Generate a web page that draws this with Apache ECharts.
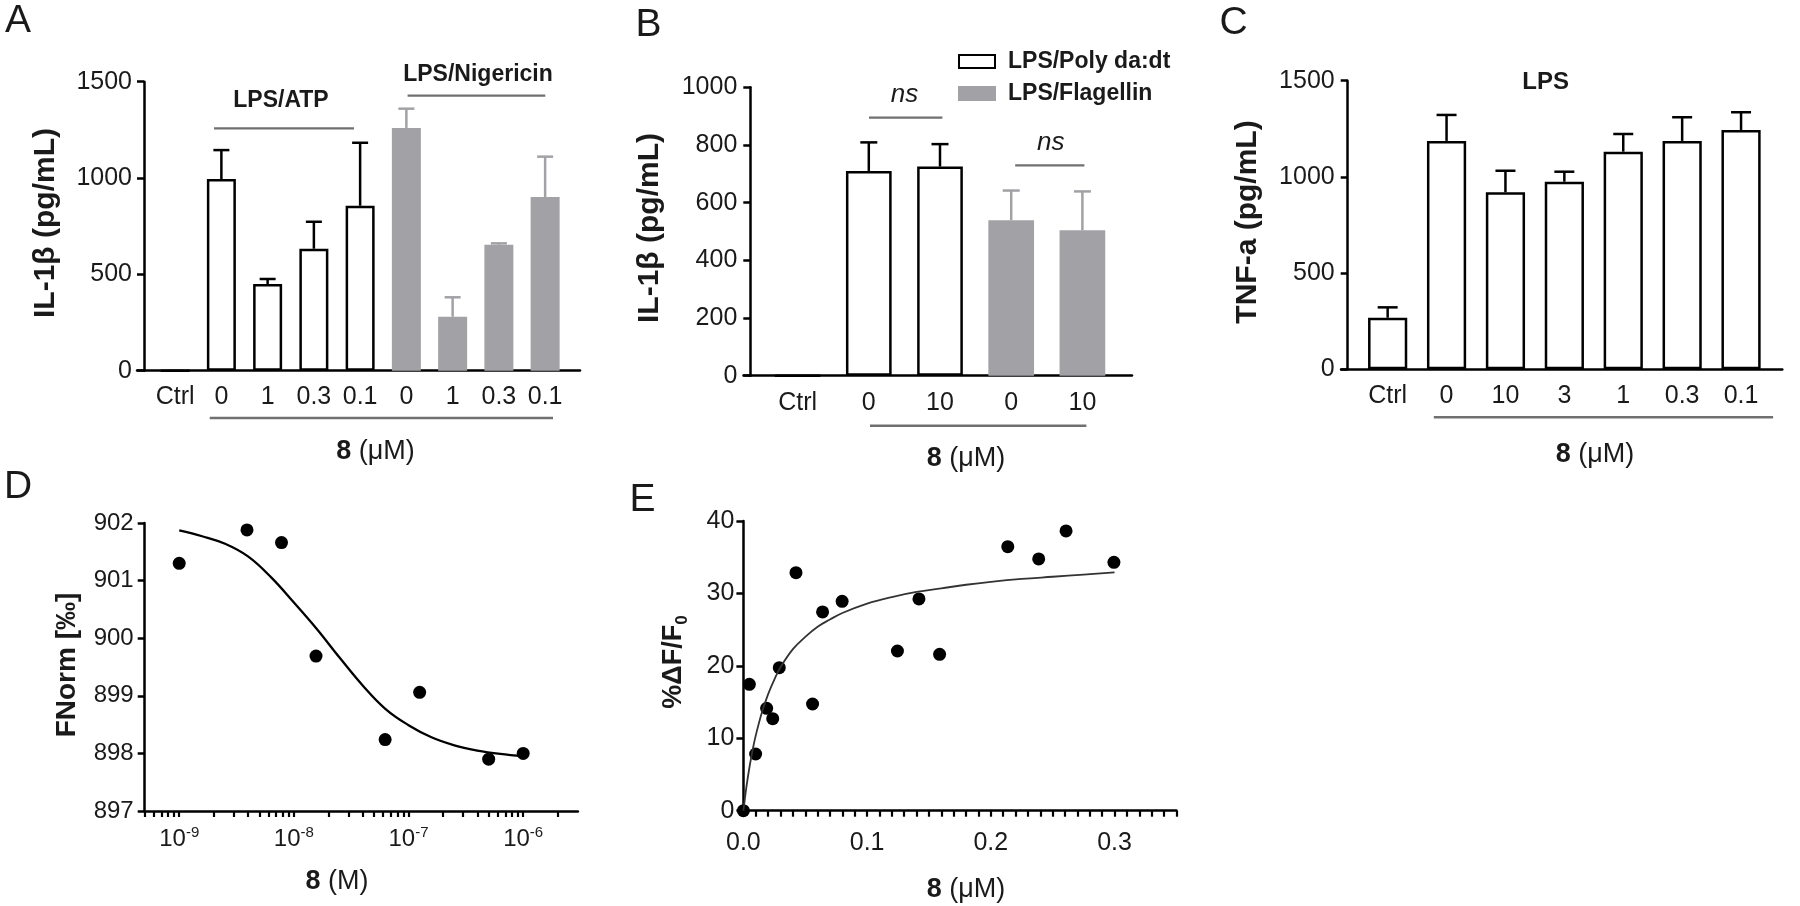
<!DOCTYPE html>
<html><head><meta charset="utf-8">
<script src="https://cdn.jsdelivr.net/npm/echarts@6/dist/echarts.min.js"></script>
<style>html,body{margin:0;padding:0;background:#fff}#c{width:1800px;height:906px}</style>
</head><body><div id="c"></div>
<script>
// ---------- Panel A ----------
const aCategories = ['Ctrl', '0', '1', '0.3', '0.1', '0', '1', '0.3', '0.1'];
const aWhite    = [0, 995, 450, 633, 856, null, null, null, null];
const aWhiteErr = [null, 1145, 476, 773, 1183, null, null, null, null];
const aGray     = [null, null, null, null, null, 1260, 280, 654, 901];
const aGrayErr  = [null, null, null, null, null, 1360, 381, 661, 1111];
// ---------- Panel B ----------
const bCategories = ['Ctrl', '0', '10', '0', '10'];
const bWhite    = [0, 710, 725, null, null];
const bWhiteErr = [null, 809, 803, null, null];
const bGray     = [null, null, null, 539, 504];
const bGrayErr  = [null, null, null, 642, 639];
// ---------- Panel C ----------
const cCategories = ['Ctrl', '0', '10', '3', '1', '0.3', '0.1'];
const cValues = [268, 1187, 920, 975, 1131, 1187, 1244];
const cErr    = [322, 1322, 1032, 1027, 1223, 1310, 1336];
// ---------- Panel D (x in M, plotted on log10 scale) ----------
const dConc  = [1e-9, 3.9e-9, 7.8e-9, 1.56e-8, 6.25e-8, 1.25e-7, 5e-7, 1e-6];
const dFNorm = [901.30, 901.88, 901.66, 899.69, 898.24, 899.06, 897.90, 898.00];
const dFitLogConc = [-9.0, -8.8, -8.6, -8.4, -8.2, -8.0, -7.8, -7.6, -7.4, -7.2, -7.0, -6.8, -6.6, -6.4, -6.2, -6.0];
const dFitFNorm   = [901.87, 901.77, 901.64, 901.42, 901.06, 900.62, 900.16, 899.66, 899.18, 898.77, 898.49, 898.28, 898.14, 898.05, 897.99, 897.95];
const dTickExp = [-9, -8, -7, -6];
// ---------- Panel E ----------
const eConc = [0, 0.0048, 0.0099, 0.0188, 0.0237, 0.029, 0.0425, 0.0559, 0.064, 0.0798, 0.1245, 0.1419, 0.1586, 0.2137, 0.2387, 0.2608, 0.2995];
const eDF   = [0, 17.45, 7.83, 14.13, 12.71, 19.75, 32.87, 14.73, 27.44, 28.91, 22.05, 29.24, 21.59, 36.46, 34.76, 38.63, 34.3];
const eFitConc = [0, 0.001, 0.0025, 0.005, 0.0075, 0.01, 0.015, 0.02, 0.025, 0.03, 0.04, 0.05, 0.06, 0.07, 0.08, 0.1, 0.12, 0.14, 0.16, 0.18, 0.2, 0.225, 0.25, 0.275, 0.3];
const eFitDF   = [0, 1.4, 3.35, 6.1, 8.4, 10.4, 13.6, 16.1, 18.1, 19.8, 22.3, 24.0, 25.4, 26.4, 27.3, 28.6, 29.5, 30.2, 30.7, 31.2, 31.6, 32.0, 32.3, 32.6, 32.9];
const eXTicks = [0, 0.1, 0.2, 0.3];

const FONT = 'Liberation Sans, Arial, Helvetica, sans-serif';
const TXT = '#1a1a1a';
const GRAYBAR = '#a2a2a6';
const GRAYLINE = '#707070';
const AXW = 2.5;
const D_MIN = -9.30103, D_MAX = -5.52288;

const chart = echarts.init(document.getElementById('c'));

function catX(grid, cats, margin) {
  return {type: 'category', gridIndex: grid, data: cats,
    axisLine: {show: false}, axisTick: {alignWithLabel: true, length: 7, lineStyle: {color: '#000', width: AXW}},
    axisLabel: {fontSize: 25, color: TXT, margin: margin, fontFamily: FONT, interval: 0}};
}
function lineX(grid) {
  return {type: 'value', gridIndex: grid, min: 0, max: 1, axisLine: {show: true, onZero: false, lineStyle: {color: '#000', width: AXW}},
    axisTick: {show: false}, axisLabel: {show: false}, splitLine: {show: false}};
}
function valY(grid, min, max, interval, offset, margin, fs) {
  return {type: 'value', gridIndex: grid, min, max, interval, offset: offset,
    axisLine: {show: true, lineStyle: {color: '#000', width: AXW}},
    axisTick: {show: true, length: 7, lineStyle: {color: '#000', width: AXW}},
    axisLabel: {fontSize: fs || 25, color: TXT, margin: margin, fontFamily: FONT, formatter: v => String(v)},
    splitLine: {show: false}};
}
function hiddenY(grid) {
  return {type: 'value', gridIndex: grid, min: 0, max: 1,
    axisLine: {show: false}, axisTick: {show: false}, axisLabel: {show: false}, splitLine: {show: false}};
}

function errSeries(xi, yi, vals, errs, color, capHalf) {
  const data = [];
  vals.forEach((v, i) => { if (v != null && errs[i] != null) data.push([i, v, errs[i]]); });
  return {type: 'custom', xAxisIndex: xi, yAxisIndex: yi, data, z: 5, silent: true,
    encode: {x: 0, y: [1, 2]},
    renderItem(params, api) {
      const i = api.value(0), v = api.value(1), e = api.value(2);
      const p0 = api.coord([i, v]), p1 = api.coord([i, e]);
      const st = {stroke: color, lineWidth: AXW};
      return {type: 'group', children: [
        {type: 'line', shape: {x1: p0[0], y1: p0[1], x2: p1[0], y2: p1[1]}, style: st},
        {type: 'line', shape: {x1: p1[0] - capHalf, y1: p1[1], x2: p1[0] + capHalf, y2: p1[1]}, style: st}
      ]};
    }};
}
function bar(name, xi, yi, data, white, width) {
  return {type: 'bar', name, xAxisIndex: xi, yAxisIndex: yi, data, barWidth: width, barGap: '-100%',
    itemStyle: white ? {color: '#fff', borderColor: '#000', borderWidth: AXW} : {color: GRAYBAR, borderColor: GRAYBAR, borderWidth: AXW},
    silent: true};
}

// tick positions: log axis (decades + 2..9 x each decade) and linear axis (every 0.01)
const dAllTicks = dTickExp.slice();
for (let e = -10; e <= -6; e++) for (let k = 2; k <= 9; k++) {
  const v = Math.log10(k) + e; if (v > D_MIN && v < D_MAX) dAllTicks.push(v);
}
const eAllTicks = [];
for (let k = 0; k <= 35; k++) eAllTicks.push(k / 100);

function txt(text, x, y, size, weight, extra) {
  return Object.assign({type: 'text', x, y, silent: true, style: Object.assign({text, fontSize: size, fontWeight: weight || 'normal', fontFamily: FONT, fill: TXT, align: 'center', verticalAlign: 'middle'}, (extra && extra.style) || {})}, extra && extra.rotation ? {rotation: extra.rotation} : {});
}
function hline(x1, x2, y, w) {
  return {type: 'line', silent: true, shape: {x1, y1: y, x2, y2: y}, style: {stroke: GRAYLINE, lineWidth: w || 2.2}};
}
function unitLabel(x, y, unit) {
  return {type: 'text', x, y, silent: true, style: {text: '{b|8} ' + unit, fontSize: 27, fontFamily: FONT, fill: TXT, align: 'center', verticalAlign: 'middle',
    rich: {b: {fontSize: 27, fontWeight: 'bold', fontFamily: FONT, fill: TXT}}}};
}
const R = Math.PI / 2;

const option = {
  animation: false,
  backgroundColor: '#fff',
  textStyle: {fontFamily: FONT},
  grid: [
    {left: 152, top: 81.7, width: 416.25, height: 289},
    {left: 137, top: 81.7, width: 443, height: 289},
    {left: 762, top: 87.3, width: 356, height: 288.4},
    {left: 743.5, top: 87.3, width: 388.5, height: 288.4},
    {left: 1358.2, top: 80.7, width: 412.3, height: 288.6},
    {left: 1341, top: 80.7, width: 441.3, height: 288.6},
    {left: 144.7, top: 523, width: 433.2, height: 288},
    {left: 743.4, top: 521, width: 433, height: 289.7}
  ],
  xAxis: [
    catX(0, aCategories, 14),
    lineX(1),
    catX(2, bCategories, 15),
    lineX(3),
    catX(4, cCategories, 14),
    lineX(5),
    {type: 'value', gridIndex: 6, min: D_MIN, max: D_MAX,
      axisLine: {show: true, onZero: false, lineStyle: {color: '#000', width: AXW}},
      axisTick: {show: true, length: 6, customValues: dAllTicks, lineStyle: {color: '#000', width: 2.2}},
      axisLabel: {customValues: dTickExp, margin: 14, color: TXT, fontFamily: FONT,
        formatter: v => '{b|10}{s|' + v + '}',
        rich: {b: {fontSize: 24, lineHeight: 26, verticalAlign: 'bottom', fontFamily: FONT, color: TXT},
               s: {fontSize: 15, lineHeight: 15, verticalAlign: 'top', fontFamily: FONT, color: TXT}}},
      splitLine: {show: false}},
    {type: 'value', gridIndex: 7, min: 0, max: 0.35,
      axisLine: {show: true, onZero: false, lineStyle: {color: '#000', width: AXW}},
      axisTick: {show: true, length: 6, customValues: eAllTicks, lineStyle: {color: '#000', width: 2.2}},
      axisLabel: {customValues: eXTicks, fontSize: 25, margin: 20, color: TXT, fontFamily: FONT, formatter: v => v.toFixed(1)},
      splitLine: {show: false}}
  ],
  yAxis: [
    valY(0, 0, 1500, 500, 8, 12),
    hiddenY(1),
    valY(2, 0, 1000, 200, 11.7, 13),
    hiddenY(3),
    valY(4, 0, 1500, 500, 10.5, 13),
    hiddenY(5),
    valY(6, 897, 902, 1, 0, 11, 24),
    valY(7, 0, 40, 10, 0, 9, 25)
  ],
  legend: {data: ['LPS/Poly da:dt', 'LPS/Flagellin'], orient: 'vertical', left: 958, top: 50, padding: 0,
    itemWidth: 36, itemHeight: 13, itemGap: 9, icon: 'rect', selectedMode: false,
    textStyle: {fontSize: 23, fontWeight: 'bold', color: TXT, fontFamily: FONT, padding: [0, 0, 0, 8]}},
  series: [
    bar('LPS/ATP', 0, 0, aWhite, true, 29),
    bar('LPS/Nigericin', 0, 0, aGray, false, 29),
    errSeries(0, 0, aWhite, aWhiteErr, '#000', 8),
    errSeries(0, 0, aGray, aGrayErr, GRAYBAR, 8),
    bar('LPS/Poly da:dt', 2, 2, bWhite, true, 45.7),
    bar('LPS/Flagellin', 2, 2, bGray, false, 45.7),
    errSeries(2, 2, bWhite, bWhiteErr, '#000', 8.5),
    errSeries(2, 2, bGray, bGrayErr, GRAYBAR, 8.5),
    bar('LPS', 4, 4, cValues, true, 39.2),
    errSeries(4, 4, cValues, cErr, '#000', 10),
    {type: 'line', xAxisIndex: 6, yAxisIndex: 6, data: dFitLogConc.map((x, i) => [x, dFitFNorm[i]]),
      smooth: 0.4, showSymbol: false, symbol: 'none', lineStyle: {color: '#000', width: 2.3}, silent: true},
    {type: 'scatter', xAxisIndex: 6, yAxisIndex: 6, data: dConc.map((c, i) => [Math.log10(c), dFNorm[i]]),
      symbolSize: 13, itemStyle: {color: '#000', opacity: 1}, silent: true},
    {type: 'line', xAxisIndex: 7, yAxisIndex: 7, data: eFitConc.map((c, i) => [c, eFitDF[i]]),
      smooth: 0.4, showSymbol: false, symbol: 'none', lineStyle: {color: '#333', width: 1.8}, silent: true},
    {type: 'scatter', xAxisIndex: 7, yAxisIndex: 7, data: eConc.map((c, i) => [c, eDF[i]]),
      symbolSize: 13, itemStyle: {color: '#000', opacity: 1}, silent: true}
  ],
  graphic: [
    txt('A', 18, 21, 39), txt('B', 648.5, 25, 39), txt('C', 1233.5, 23, 39),
    txt('D', 18, 487, 39), txt('E', 642.5, 500, 39),
    txt('IL-1β (pg/mL)', 46, 223, 30, 'bold', {rotation: R}),
    txt('IL-1β (pg/mL)', 650, 228, 30, 'bold', {rotation: R}),
    txt('TNF-a (pg/mL)', 1248, 222, 30, 'bold', {rotation: R}),
    txt('FNorm [‰]', 67, 665, 28, 'bold', {rotation: R}),
    {type: 'text', x: 674, y: 662, rotation: R, silent: true, style: {text: '%ΔF/F{s|0}', fontSize: 27, fontWeight: 'bold', fontFamily: FONT, fill: TXT, align: 'center', verticalAlign: 'middle',
      rich: {s: {fontSize: 17, fontWeight: 'bold', fontFamily: FONT, fill: TXT, verticalAlign: 'bottom', lineHeight: 34}}}},
    txt('LPS/ATP', 281, 101, 23, 'bold'), hline(214, 354, 128.3),
    txt('LPS/Nigericin', 478, 75, 23, 'bold'), hline(407.6, 545.3, 95.7),
    hline(209.7, 553, 418, 2.5), unitLabel(375.5, 452, '(μM)'),
    {type: 'text', x: 904.5, y: 95, silent: true, style: {text: 'ns', fontSize: 26, fontStyle: 'italic', fontFamily: FONT, fill: TXT, align: 'center', verticalAlign: 'middle'}},
    hline(869, 942.4, 117.7),
    {type: 'text', x: 1050.8, y: 142.7, silent: true, style: {text: 'ns', fontSize: 26, fontStyle: 'italic', fontFamily: FONT, fill: TXT, align: 'center', verticalAlign: 'middle'}},
    hline(1015.2, 1084.4, 165.3),
    hline(870, 1086.4, 425.7, 2.5), unitLabel(966, 459, '(μM)'),
    txt('LPS', 1545.6, 82, 24, 'bold'),
    hline(1433.8, 1773.1, 417.3, 2.5), unitLabel(1595, 455, '(μM)'),
    unitLabel(337, 882, '(M)'),
    unitLabel(966, 890, '(μM)')
  ]
};
chart.setOption(option);
</script></body></html>
